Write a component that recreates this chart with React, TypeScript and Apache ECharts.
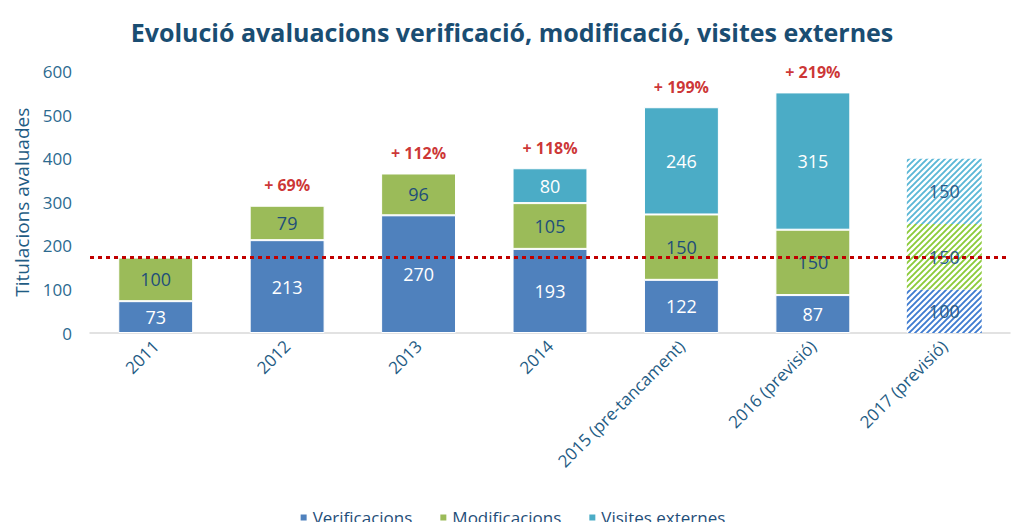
import React, { useEffect, useRef } from 'react';
import * as echarts from 'echarts';

const categories = [
  '2011',
  '2012',
  '2013',
  '2014',
  '2015 (pre-tancament)',
  '2016 (previsió)',
  '2017 (previsió)',
];
const verificacions = [73, 213, 270, 193, 122, 87, 100];
const modificacions = [100, 79, 96, 105, 150, 150, 150];
const visitesExternes: (number | null)[] = [null, null, null, 80, 246, 315, 150];
const increments = ['', '+ 69%', '+ 112%', '+ 118%', '+ 199%', '+ 219%', ''];
const referenceValue = 173;
const forecastIndex = 6;
const yMin = 0;
const yMax = 600;
const yInterval = 100;

const FONT = '"Open Sans", sans-serif';
const C_VER = '#4F81BD';
const C_MOD = '#9BBB59';
const C_VIS = '#4BACC6';
const H_VER = '#3F7BD0';
const H_MOD = '#8CCB3A';
const H_VIS = '#5BB7D6';

function hatch(color: string) {
  const s = 6;
  const c = document.createElement('canvas');
  c.width = s;
  c.height = s;
  const ctx = c.getContext('2d')!;
  ctx.fillStyle = '#ffffff';
  ctx.fillRect(0, 0, s, s);
  ctx.strokeStyle = color;
  ctx.lineWidth = 1.9;
  ctx.beginPath();
  ctx.moveTo(-1, s + 1);
  ctx.lineTo(s + 1, -1);
  ctx.moveTo(-s / 2 - 1, s / 2 + 1);
  ctx.lineTo(s / 2 + 1, -s / 2 - 1);
  ctx.moveTo(s / 2 - 1, s * 1.5 + 1);
  ctx.lineTo(s * 1.5 + 1, s / 2 - 1);
  ctx.stroke();
  return { image: c, repeat: 'repeat' };
}

export default function App() {
  const ref = useRef<HTMLDivElement>(null);
  useEffect(() => {
    if (!ref.current) return;
    const chart = echarts.init(ref.current, null, { renderer: 'svg' });

    const mk = (arr: (number | null)[], hatchColor: string) =>
      arr.map((v, i) =>
        i === forecastIndex && v != null
          ? {
              value: v,
              itemStyle: { color: hatch(hatchColor), borderWidth: 0 },
              label: { color: '#2B5C8A' },
            }
          : v
      );

    const totals = categories.map(
      (_, i) => verificacions[i] + modificacions[i] + (visitesExternes[i] ?? 0)
    );

    const baseLabel = {
      show: true,
      position: 'inside',
      fontFamily: FONT,
      fontSize: 18,
    };

    chart.setOption({
      animation: false,
      title: {
        text: 'Evolució avaluacions verificació, modificació, visites externes',
        left: 'center',
        top: 14,
        textStyle: {
          fontFamily: FONT,
          fontSize: 25,
          fontWeight: 'bold',
          color: '#1A4D72',
        },
      },
      legend: {
        data: ['Verificacions', 'Modificacions', 'Visites externes'],
        left: 'center',
        top: 504,
        icon: 'rect',
        itemWidth: 8,
        itemHeight: 8,
        itemGap: 26,
        textStyle: { fontFamily: FONT, fontSize: 17, color: '#1F4E79' },
      },
      grid: { left: 90, right: 14, top: 71.5, bottom: 197, containLabel: false },
      xAxis: {
        type: 'category',
        data: categories,
        axisLine: { lineStyle: { color: '#D9D9D9', width: 1.5 } },
        axisTick: { show: false },
        axisLabel: {
          rotate: 45,
          interval: 0,
          margin: 10,
          fontFamily: FONT,
          fontSize: 17,
          color: '#1F5C84',
        },
      },
      yAxis: {
        type: 'value',
        min: yMin,
        max: yMax,
        interval: yInterval,
        name: 'Titulacions avaluades',
        nameLocation: 'middle',
        nameGap: 58,
        nameTextStyle: { fontFamily: FONT, fontSize: 19, color: '#1F5C84' },
        axisLine: { show: false },
        axisTick: { show: false },
        splitLine: { show: false },
        axisLabel: {
          margin: 18,
          fontFamily: FONT,
          fontSize: 17,
          color: '#2C6A8F',
        },
      },
      series: [
        {
          name: 'Verificacions',
          type: 'bar',
          stack: 'total',
          barCategoryGap: '43%',
          data: mk(verificacions, H_VER),
          itemStyle: { color: C_VER, borderColor: '#ffffff', borderWidth: 1 },
          label: { ...baseLabel, color: '#ffffff' },
          markLine: {
            silent: true,
            symbol: 'none',
            data: [{ yAxis: referenceValue }],
            lineStyle: { color: '#C00000', type: [4, 4], width: 3 },
            label: { show: false },
          },
        },
        {
          name: 'Modificacions',
          type: 'bar',
          stack: 'total',
          data: mk(modificacions, H_MOD),
          itemStyle: { color: C_MOD, borderColor: '#ffffff', borderWidth: 1 },
          label: { ...baseLabel, color: '#1F4E79' },
        },
        {
          name: 'Visites externes',
          type: 'bar',
          stack: 'total',
          data: mk(visitesExternes, H_VIS),
          itemStyle: { color: C_VIS, borderColor: '#ffffff', borderWidth: 1 },
          label: { ...baseLabel, color: '#ffffff' },
        },
        {
          name: 'increment',
          type: 'scatter',
          data: totals,
          symbolSize: 1,
          itemStyle: { color: 'rgba(0,0,0,0)' },
          silent: true,
          z: 5,
          label: {
            show: true,
            position: 'top',
            distance: 12,
            formatter: (p: any) => increments[p.dataIndex],
            fontFamily: FONT,
            fontSize: 16,
            fontWeight: 'bold',
            color: '#C00000',
          },
        },
      ],
    });
    return () => chart.dispose();
  }, []);
  return <div ref={ref} style={{ width: 1024, height: 530, margin: -8 }} />;
}
